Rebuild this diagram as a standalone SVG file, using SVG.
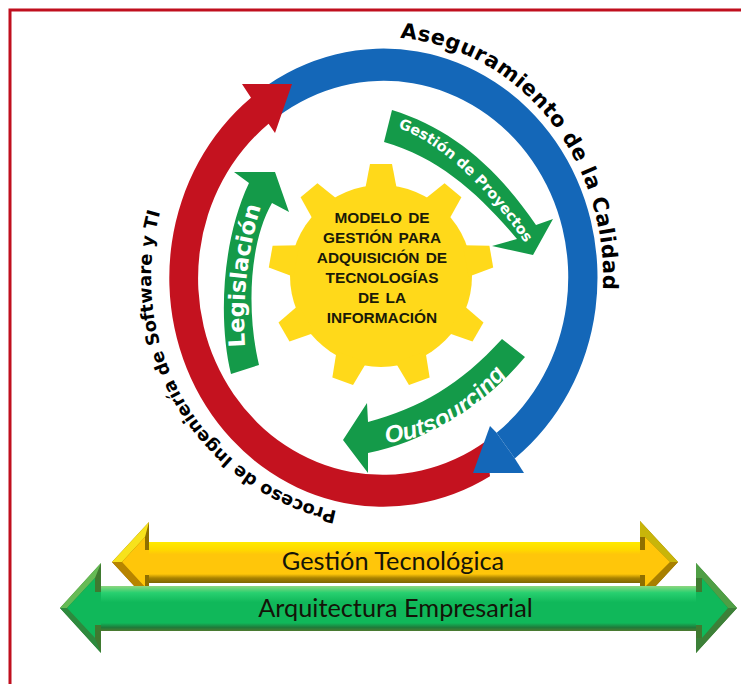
<svg xmlns="http://www.w3.org/2000/svg" width="741" height="684" viewBox="0 0 741 684">
<style>
.curve{font-family:"DejaVu Sans",sans-serif;font-weight:bold;fill:#000}
.white{font-family:"DejaVu Sans",sans-serif;font-weight:bold;fill:#fff}
.gear{font-family:"Liberation Sans",Arial,sans-serif;font-weight:bold;font-size:15.4px;fill:#1a1a08;text-anchor:middle;word-spacing:2px}
.bar{font-family:Lato,"Open Sans",sans-serif;font-size:25.300px;fill:#141408;text-anchor:middle}
.grn{fill:#149a49}
.blue{fill:#1467b8}
.gt{fill:#ffd91a}
</style>
<defs>
<path id="pA" d="M400,38 A220,240 0 0 1 595.5,340"/>
<path id="pP" d="M337,511 A232,238 0 0 1 182,159"/>
<path id="pL" d="M245,347 C242,300 247,245 265,195"/>
<path id="pG" d="M398,128 C440,142 490,190 530,250"/>
<path id="pO" d="M386,443 Q468,434 518,358"/>
<path id="tooth" d="M365,190 L370,164 L392,164 L397,190 Z"/>
<linearGradient id="gy" gradientUnits="userSpaceOnUse" x1="0" y1="542" x2="0" y2="583">
<stop offset="0" stop-color="#ffea00"/><stop offset=".2" stop-color="#ffd800"/><stop offset=".3" stop-color="#ffc60a"/><stop offset=".78" stop-color="#ffc60a"/><stop offset=".88" stop-color="#a98200"/><stop offset="1" stop-color="#7d6400"/>
</linearGradient>
<linearGradient id="gg" gradientUnits="userSpaceOnUse" x1="0" y1="586" x2="0" y2="631">
<stop offset="0" stop-color="#8ed67f"/><stop offset=".15" stop-color="#28d070"/><stop offset=".36" stop-color="#10b85a"/><stop offset=".82" stop-color="#10b85a"/><stop offset=".92" stop-color="#1f7a3a"/><stop offset="1" stop-color="#4f7a30"/>
</linearGradient>
</defs>
<rect x="10" y="10" width="760" height="700" fill="#fff" stroke="#c00f1e" stroke-width="3"/>
<g id="connectors">
<path id="ring-blue" class="blue" d="M260.2,90.4 A214,229 0 0 1 514.8,458.4 L496.6,432.8 A184.5,196.5 0 0 0 277.1,117 Z"/>
<path id="ring-red" fill="#c4121f" d="M490,476.3 A214,229 0 0 1 251,97.8 L242,84 L292,84 L275,133 L268.6,123.8 A184.5,196.5 0 0 0 486.2,440.9 Z"/>
<path id="ring-blue-head" class="blue" d="M514.8,458.4 L524,473 L473,473 L490,426 L496.6,432.8 Z"/>
<path id="arrow-legislacion" class="grn" d="M231,374 C218,320 222,240 249,183 L234,172 L275,172 L289,212 L272,203 C248,245 247,315 259,365 Z"/>
<path id="arrow-gestion" class="grn" d="M392,110 C450,128 495,165 536,225 L553,219 L533,255 L492,246 L517,239 C480,195 440,158 384,142 Z"/>
<path id="arrow-outsourcing" class="grn" d="M502,339 C460,385 420,408 368,422 L367,403 L343,440 L368,473 L368,453 C430,440 485,405 525,357 Z"/>
</g>
<g id="gear" class="gt">
<circle cx="381" cy="276" r="91"/>
<use href="#tooth"/>
<use href="#tooth" transform="rotate(40 381 276)"/>
<use href="#tooth" transform="rotate(80 381 276)"/>
<use href="#tooth" transform="rotate(120 381 276)"/>
<use href="#tooth" transform="rotate(160 381 276)"/>
<use href="#tooth" transform="rotate(200 381 276)"/>
<use href="#tooth" transform="rotate(240 381 276)"/>
<use href="#tooth" transform="rotate(280 381 276)"/>
<use href="#tooth" transform="rotate(320 381 276)"/>
<text class="gear" x="382" y="223">MODELO DE</text>
<text class="gear" x="382" y="243">GESTIÓN PARA</text>
<text class="gear" x="382" y="263">ADQUISICIÓN DE</text>
<text class="gear" x="382" y="283">TECNOLOGÍAS</text>
<text class="gear" x="382" y="303">DE LA</text>
<text class="gear" x="382" y="323">INFORMACIÓN</text>
</g>
<g id="label-aseguramiento"><text class="curve" font-size="21" letter-spacing="0.6"><textPath href="#pA">Aseguramiento de la Calidad</textPath></text></g>
<g id="label-proceso"><text class="curve" font-size="17.800"><textPath href="#pP">Proceso de Ingeniería de Software y TI</textPath></text></g>
<g id="label-legislacion"><text class="white" font-size="22.500"><textPath href="#pL">Legislación</textPath></text></g>
<g id="label-gestion"><text class="white" font-size="14.500"><textPath href="#pG">Gestión de Proyectos</textPath></text></g>
<g id="label-outsourcing"><text style="font-family:'Liberation Sans',Arial,sans-serif;font-weight:bold;fill:#fff" font-size="24" font-style="italic"><textPath href="#pO">Outsourcing</textPath></text></g>
<g id="bar-gestion">
<path fill="#8f6f00" d="M112,562 L149,522 L149,542 L640,542 L640,521 L678,562 L640,603 L640,583 L149,583 L149,602 Z"/>
<path fill="#f7e21c" d="M112,562 L149,522 L145,537 L122,562 Z"/>
<path fill="#b88400" d="M112,562 L149,602 L145,587 L122,562 Z"/>
<path fill="#c8b50a" d="M640,521 L678,562 L670,562 L645,537 L640,537 Z"/>
<path fill="#a87f00" d="M678,562 L640,603 L640,587 L645,587 L670,562 Z"/>
<path fill="#ffc60a" d="M122,562 L145,537 L145,550 L645,550 L645,537 L670,562 L645,587 L645,575 L145,575 L145,587 Z"/>
<rect x="149" y="542" width="491" height="41" fill="url(#gy)"/>
<text class="bar" x="393" y="570">Gestión Tecnológica</text>
</g>
<g id="bar-arquitectura">
<path fill="#3f7a30" d="M60,608 L101,563 L101,586 L696,586 L696,563 L737,608 L696,653 L696,631 L101,631 L101,653 Z"/>
<path fill="#66bb55" d="M60,608 L101,563 L95,578 L67,608 Z"/>
<path fill="#2d8a3e" d="M60,608 L101,653 L95,638 L67,608 Z"/>
<path fill="#4f9f45" d="M696,563 L737,608 L728,608 L702,578 L696,578 Z"/>
<path fill="#3c8038" d="M737,608 L696,653 L696,638 L702,638 L728,608 Z"/>
<path fill="#10b85a" d="M67,608 L95,578 L95,592 L702,592 L702,578 L728,608 L702,638 L702,625 L95,625 L95,638 Z"/>
<rect x="101" y="586" width="595" height="45" fill="url(#gg)"/>
<text class="bar" x="395.500" y="617">Arquitectura Empresarial</text>
</g>
</svg>
